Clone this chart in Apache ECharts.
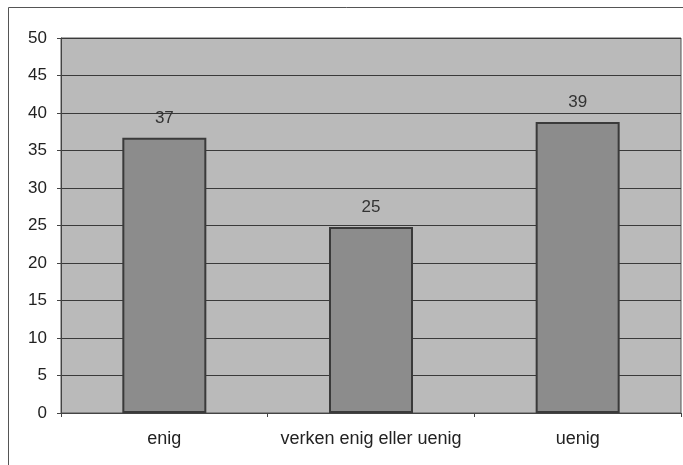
<!DOCTYPE html>
<html>
<head>
<meta charset="utf-8">
<script src="https://cdn.jsdelivr.net/npm/echarts@6/dist/echarts.min.js"></script>
<style>html,body{margin:0;padding:0;background:#fff;}#c{width:683px;height:465px;}</style>
</head>
<body>
<div id="c"></div>
<script>
var categories = ['enig', 'verken enig eller uenig', 'uenig'];
var values = [36.7, 24.8, 38.8];
var labels = ['37', '25', '39'];
var yTicks = [0, 5, 10, 15, 20, 25, 30, 35, 40, 45, 50];

var chart = echarts.init(document.getElementById('c'));
var font = 'Liberation Sans, Arial, sans-serif';
chart.setOption({
  animation: false,
  backgroundColor: '#ffffff',
  graphic: [{
    type: 'rect', z: -10,
    shape: {x: 8.5, y: 7.5, width: 700, height: 500},
    style: {fill: 'none', stroke: '#555', lineWidth: 1}
  }],
  grid: {left: 61, top: 38, right: 2, bottom: 52, show: true, backgroundColor: '#bababa', borderColor: '#555', borderWidth: 1},
  xAxis: {
    type: 'category', data: categories,
    axisLine: {lineStyle: {color: '#444', width: 1}},
    axisTick: {show: true, interval: 0, length: 4, lineStyle: {color: '#444'}},
    axisLabel: {interval: 0, hideOverlap: false, color: '#222', fontSize: 18, fontFamily: font, margin: 17}
  },
  yAxis: {
    type: 'value', min: yTicks[0], max: yTicks[yTicks.length - 1], interval: 5,
    axisLine: {show: true, lineStyle: {color: '#444', width: 1}},
    axisTick: {show: true, length: 4, lineStyle: {color: '#444'}},
    axisLabel: {color: '#222', fontSize: 17, fontFamily: font, margin: 14},
    splitLine: {show: true, lineStyle: {color: '#3a3a3a', width: 1}}
  },
  series: [{
    type: 'bar', barWidth: 84,
    data: values.map(function (v, i) { return {value: v, label: {formatter: labels[i]}}; }),
    itemStyle: {color: '#8c8c8c', borderColor: '#3a3a3a', borderWidth: 2},
    label: {show: true, position: 'top', distance: 11, color: '#333', fontSize: 17, fontFamily: font}
  }]
});
</script>
</body>
</html>
